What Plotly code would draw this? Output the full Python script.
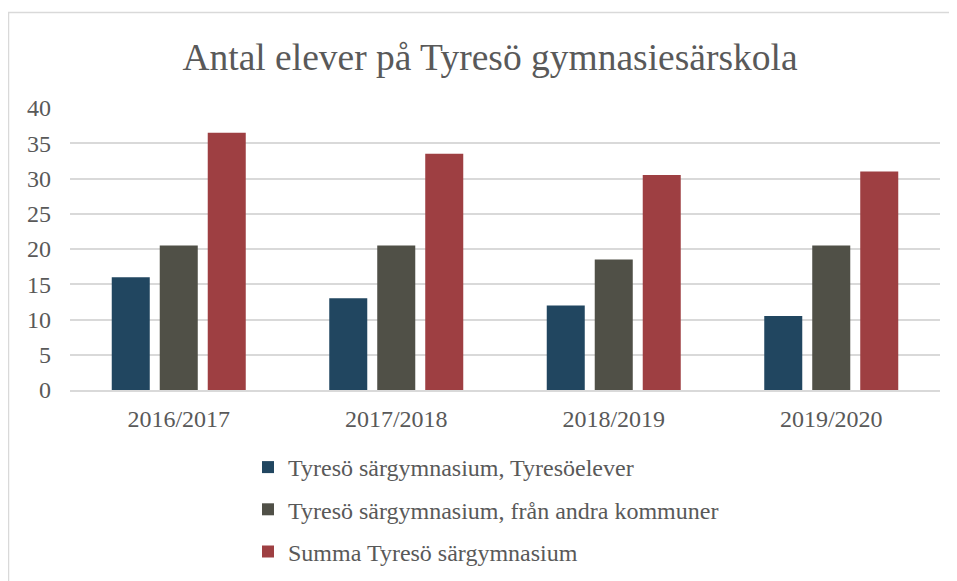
import plotly.graph_objects as go

categories = ["2016/2017", "2017/2018", "2018/2019", "2019/2020"]
series_names = [
    "Tyresö särgymnasium, Tyresöelever",
    "Tyresö särgymnasium, från andra kommuner",
    "Summa Tyresö särgymnasium",
]
tyreso_elever = [16, 13, 12, 10.5]
andra_kommuner = [20.5, 20.5, 18.5, 20.5]
summa = [36.5, 33.5, 30.5, 31]
colors = ["#214660", "#505047", "#9E3F42"]
y_ticks = [0, 5, 10, 15, 20, 25, 30, 35, 40]

# page body has an 8px margin, so figure coords = screen coords - 8
OFF = 8
W, H = 957, 581
L, T = 70 - OFF, 108 - OFF
R = W - (940 - OFF)
B = H - (390 - OFF)
PW, PH = W - L - R, H - T - B


def px_x(sx):
    return (sx - OFF - L) / PW


def px_y(sy):
    return (H - B - (sy - OFF)) / PH


fig = go.Figure()
for i, (name, vals) in enumerate(zip(series_names, [tyreso_elever, andra_kommuner, summa])):
    fig.add_trace(go.Bar(x=categories, y=vals, name=name, marker_color=colors[i],
                         marker_line_width=0, legendgroup=f"g{i}"))

font_fam = "Liberation Serif, Times New Roman, serif"
fig.update_layout(
    width=W, height=H,
    margin=dict(l=L, r=R, t=T, b=B, autoexpand=False),
    paper_bgcolor="white", plot_bgcolor="white",
    font=dict(family=font_fam, color="#595959", size=24),
    title=dict(text="Antal elever på Tyresö gymnasiesärskola", x=(490 - OFF) / W, xanchor="center",
               y=1 - (57 - OFF) / H, yanchor="middle",
               font=dict(family=font_fam, size=37.5, color="#595959")),
    barmode="group", bargap=0.338, bargroupgap=0.208,
    showlegend=True,
    legend=dict(orientation="v", x=px_x(248), xanchor="left",
                y=px_y(445), yanchor="top",
                font=dict(family=font_fam, size=24, color="#595959"), tracegroupgap=8,
                itemwidth=30, bgcolor="rgba(0,0,0,0)"),
    xaxis=dict(showgrid=False, showline=True, linecolor="#D9D9D9", linewidth=2,
               ticks="", tickfont=dict(family=font_fam, size=24, color="#595959"),
               ticklabelstandoff=6),
    yaxis=dict(range=[0, 40], tickvals=y_ticks, showgrid=True, gridcolor="#D9D9D9",
               gridwidth=2, zeroline=False, showline=False, ticks="",
               tickfont=dict(family=font_fam, size=24, color="#595959"), ticklabelstandoff=18),
    shapes=[dict(type="rect", xref="paper", yref="paper",
                 x0=px_x(8.5), x1=px_x(W + 30),
                 y0=px_y(H + 30), y1=px_y(12.5),
                 line=dict(color="#D9D9D9", width=1.5), fillcolor="rgba(0,0,0,0)",
                 layer="below")],
)
fig.write_html("out.html")
